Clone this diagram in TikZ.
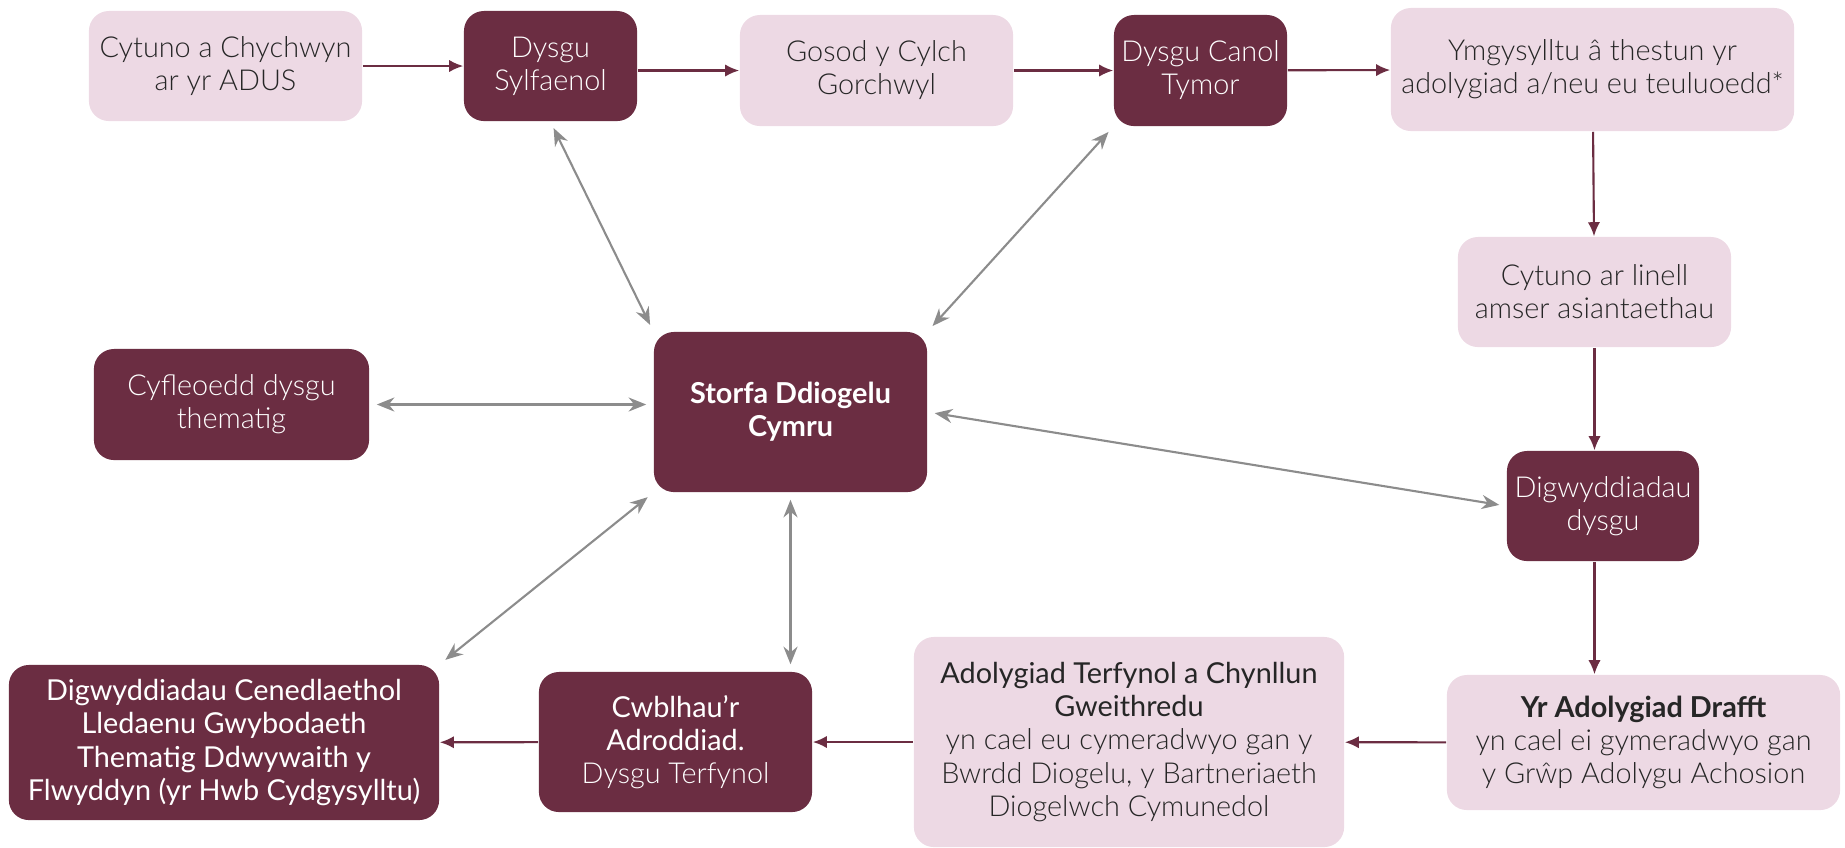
\documentclass[tikz,border=0pt]{standalone}
\usepackage{fontspec}
\setmainfont{Lato}
\newfontfamily\litefont{Lato Light}
\usetikzlibrary{arrows.meta}
\definecolor{wine}{HTML}{6B2D42}
\definecolor{blush}{HTML}{EDD9E4}
\definecolor{ash}{HTML}{8C8C8C}

\begin{document}
\begin{tikzpicture}[x=0.01cm,y=-0.01cm,
  box/.style={rounded corners=0.2cm,align=center,inner sep=0pt,font=\fontsize{8.2}{9.4}\selectfont},
  dark/.style={box,fill=wine,text=white},
  light/.style={box,fill=blush,text=black!85},
  thin/.append style={font=\fontsize{8.2}{9.4}\selectfont\litefont},
  flow/.style={wine,line width=0.6pt,-{Latex[length=4pt,width=3.5pt]}},
  link/.style={ash,line width=0.6pt,{Stealth[length=5pt,width=4pt]}-{Stealth[length=5pt,width=4pt]},shorten <=2pt,shorten >=2pt}]
  \useasboundingbox (0,0) rectangle (1845,847);

  % top row
  \node[light,thin,minimum width=2.73cm,minimum height=1.10cm] (cytuno) at (225.5,66) {Cytuno a Chychwyn\\ar yr ADUS};
  \node[dark,thin,minimum width=1.73cm,minimum height=1.10cm] (sylf) at (550.5,66) {Dysgu\\Sylfaenol};
  \node[light,thin,minimum width=2.73cm,minimum height=1.11cm] (gosod) at (876.5,70.5) {Gosod y Cylch\\Gorchwyl};
  \node[dark,thin,minimum width=1.73cm,minimum height=1.11cm] (canol) at (1200.5,70.5) {Dysgu Canol\\Tymor};
  \node[light,thin,minimum width=4.03cm,minimum height=1.23cm] (ymgys) at (1592.5,69.5) {Ymgysylltu â thestun yr\\adolygiad a/neu eu teuluoedd*};

  % middle
  \node[light,thin,minimum width=2.73cm,minimum height=1.10cm] (linell) at (1594.5,292) {Cytuno ar linell\\amser asiantaethau};
  \node[dark,font=\fontsize{8.2}{9.4}\selectfont\bfseries,minimum width=2.73cm,minimum height=1.60cm] (storfa) at (790.5,412) {Storfa Ddiogelu\\Cymru};
  \node[dark,thin,minimum width=2.75cm,minimum height=1.11cm] (cyfl) at (231.5,404.5) {Cyfleoedd dysgu\\thematig};
  \node[dark,thin,minimum width=1.92cm,minimum height=1.10cm] (digdysgu) at (1603,506) {Digwyddiadau\\dysgu};

  % bottom row
  \node[light,thin,minimum width=3.93cm,minimum height=1.35cm] (drafft) at (1643.5,742.5) {{\fontspec{Lato}\bfseries Yr Adolygiad Drafft}\\yn cael ei gymeradwyo gan\\y Grŵp Adolygu Achosion};
  \node[light,minimum width=4.30cm,minimum height=2.10cm] (terf) at (1129,742) {Adolygiad Terfynol a Chynllun\\Gweithredu\\{\litefont yn cael eu cymeradwyo gan y}\\{\litefont Bwrdd Diogelu, y Bartneriaeth}\\{\litefont Diogelwch Cymunedol}};
  \node[dark,minimum width=2.73cm,minimum height=1.40cm] (cwbl) at (675.5,742) {Cwblhau'r\\Adroddiad.\\{\litefont Dysgu Terfynol}};
  \node[dark,minimum width=4.30cm,minimum height=1.55cm] (cenedl) at (224,742.5) {Digwyddiadau Cenedlaethol\\Lledaenu Gwybodaeth\\Thematig Ddwywaith y\\Flwyddyn (yr Hwb Cydgysylltu)};

  % process flow
  \path[flow]
    (cytuno) edge (sylf)
    (sylf.east |- gosod) edge (gosod)
    (gosod) edge (canol)
    (canol) edge (ymgys)
    (ymgys) edge (linell)
    (linell) edge (linell |- digdysgu.north)
    (digdysgu.south -| linell) edge (linell |- drafft.north)
    (drafft) edge (terf)
    (terf) edge (cwbl)
    (cwbl) edge (cenedl);

  % links to the store
  \path[link]
    (sylf.south) edge (storfa.north west)
    (canol.south west) edge (storfa.north east)
    (cyfl.east) edge (cyfl.east -| storfa.west)
    (storfa.east) edge (digdysgu.west)
    (storfa.south west) edge (cenedl.north east)
    (storfa.south) edge (storfa.south |- cwbl.north);
\end{tikzpicture}
\end{document}
